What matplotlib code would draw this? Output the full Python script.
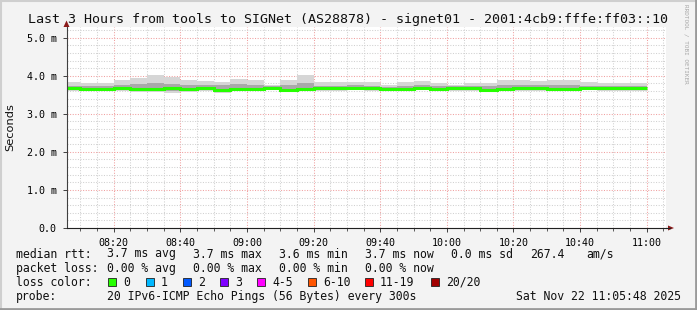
import numpy as np
import matplotlib.pyplot as plt
from matplotlib.patches import Rectangle, Polygon

# =============================================================================
# DATA  (median rtt per 5-minute step, in ms)
# =============================================================================
# step end times (minutes after midnight); the first step starts at 08:05:48
t_start = 8 * 60 + 5 + 48 / 60.0
t_end = 11 * 60 + 5 + 48 / 60.0
step_ends = list(range(8 * 60 + 10, 11 * 60 + 1, 5))

rtt_max = [3.83, 3.80, 3.80, 3.88, 3.93, 4.02, 3.96, 3.88, 3.86, 3.83,
           3.92, 3.88, 3.77, 3.88, 4.01, 3.83, 3.83, 3.83, 3.83, 3.75,
           3.83, 3.87, 3.81, 3.77, 3.80, 3.81, 3.90, 3.88, 3.86, 3.88,
           3.88, 3.83, 3.81, 3.81, 3.81]
rtt_q3 = [3.74, 3.72, 3.72, 3.76, 3.79, 3.80, 3.79, 3.76, 3.75, 3.76,
          3.78, 3.76, 3.72, 3.75, 3.80, 3.74, 3.74, 3.75, 3.74, 3.71,
          3.74, 3.76, 3.74, 3.72, 3.73, 3.73, 3.77, 3.76, 3.75, 3.76,
          3.76, 3.74, 3.74, 3.74, 3.74]
rtt_median = [3.68, 3.66, 3.66, 3.67, 3.64, 3.64, 3.67, 3.66, 3.67, 3.62,
              3.66, 3.66, 3.68, 3.63, 3.66, 3.67, 3.67, 3.69, 3.67, 3.66,
              3.66, 3.69, 3.66, 3.67, 3.67, 3.62, 3.66, 3.67, 3.67, 3.66,
              3.66, 3.69, 3.68, 3.67, 3.67]
rtt_q1 = [3.64, 3.62, 3.63, 3.63, 3.61, 3.61, 3.60, 3.62, 3.63, 3.59,
          3.63, 3.63, 3.65, 3.61, 3.62, 3.63, 3.64, 3.65, 3.64, 3.63,
          3.63, 3.65, 3.63, 3.64, 3.64, 3.60, 3.63, 3.64, 3.64, 3.63,
          3.63, 3.65, 3.64, 3.63, 3.63]
rtt_min = [3.60, 3.59, 3.60, 3.60, 3.58, 3.58, 3.56, 3.58, 3.60, 3.56,
           3.60, 3.60, 3.62, 3.58, 3.59, 3.60, 3.61, 3.62, 3.61, 3.61,
           3.60, 3.62, 3.60, 3.61, 3.61, 3.58, 3.60, 3.61, 3.61, 3.60,
           3.60, 3.62, 3.61, 3.60, 3.60]

y_ticks = [0, 1, 2, 3, 4, 5]
y_labels = ["0.0", "1.0 m", "2.0 m", "3.0 m", "4.0 m", "5.0 m"]
x_tick_labels = ["08:20", "08:40", "09:00", "09:20", "09:40",
                 "10:00", "10:20", "10:40", "11:00"]

title = "Last 3 Hours from tools to SIGNet (AS28878) - signet01 - 2001:4cb9:fffe:ff03::10"
rtt_row = [("median rtt:", 16), ("3.7 ms avg", 107), ("3.7 ms max", 193),
           ("3.6 ms min", 279), ("3.7 ms now", 365), ("0.0 ms sd", 451),
           ("267.4", 530), ("am/s", 586)]
loss_row = [("packet loss:", 16), ("0.00 % avg", 107), ("0.00 % max", 193),
            ("0.00 % min", 279), ("0.00 % now", 365)]
loss_labels = ["0", "1", "2", "3", "4-5", "6-10", "11-19", "20/20"]
loss_colors = ["#26ff00", "#00b8ff", "#0059ff", "#7e00ff",
               "#ff00ff", "#ff5500", "#ff0000", "#a10000"]
loss_x = [108, 146, 183, 220, 257, 308, 365, 431]
probe_text = "20 IPv6-ICMP Echo Pings (56 Bytes) every 300s"
stamp = "Sat Nov 22 11:05:48 2025"

# =============================================================================
# FIGURE
# =============================================================================
W, H = 697, 310
MONO = "DejaVu Sans Mono"
fig = plt.figure(figsize=(W / 100, H / 100), dpi=100, facecolor="#f3f3f3")

def fx(x):
    return x / W

def fy(y):
    return 1 - y / H

# plot area in pixels
L, R, T, B = 66.5, 666, 27, 228
ax = fig.add_axes([fx(L), fy(B), fx(R - L), (B - T) / H])
ax.set_facecolor("white")

edges = [t_start] + step_ends
ax.stairs(rtt_max, edges, baseline=rtt_min, fill=True, color="#d6d6d6", lw=0)
ax.stairs(rtt_q3, edges, baseline=rtt_q1, fill=True, color="#a9a9a9", lw=0)
ax.stairs(rtt_median, edges, baseline=None, color="#26ff00", lw=2.2)

ax.set_xlim(t_start, t_end)
ax.set_ylim(0, (B - T) / 38.06)

# grid
ax.set_xticks(range(8 * 60 + 20, 11 * 60 + 1, 20))
ax.set_xticks(range(8 * 60 + 10, 11 * 60 + 6, 5), minor=True)
ax.set_xticklabels(x_tick_labels)
ax.set_yticks(y_ticks)
ax.set_yticks(np.arange(0.2, 5.3, 0.2), minor=True)
ax.set_yticklabels(y_labels)
ax.grid(which="minor", color="#d0d0d0", linestyle=(0, (1, 1.5)), lw=0.75)
ax.grid(which="major", color="#f0a0a0", linestyle=(0, (1, 1.5)), lw=0.75)
ax.set_axisbelow(True)

for s in ["top", "right"]:
    ax.spines[s].set_visible(False)
ax.spines["left"].set_color("#404040")
ax.spines["bottom"].set_color("#202020")
ax.spines["left"].set_linewidth(0.8)
ax.spines["bottom"].set_linewidth(0.8)

ax.tick_params(axis="both", which="major", length=3, width=0.7, color="#404040",
               labelsize=7.2, pad=4)
ax.tick_params(axis="x", which="minor", length=2, width=0.6, color="#404040")
ax.tick_params(axis="y", which="minor", length=0)
for lab in ax.get_xticklabels() + ax.get_yticklabels():
    lab.set_family(MONO)

# axis extensions and arrows
fig.add_artist(plt.Line2D([fx(R), fx(670)], [fy(B), fy(B)],
                          color="#202020", lw=0.8))
fig.add_artist(Polygon([[fx(668), fy(B - 2.5)], [fx(668), fy(B + 2.5)],
                        [fx(674), fy(B)]], closed=True, color="#8b1a1a", lw=0))
fig.add_artist(Polygon([[fx(L - 3), fy(27)], [fx(L + 3), fy(27)],
                        [fx(L), fy(20.5)]], closed=True, color="#8b1a1a", lw=0))

# titles
fig.text(fx(348), fy(19), title, family=MONO, fontsize=9.6,
         ha="center", va="center", color="#101010")
fig.text(fx(10), fy(127), "Seconds", family="DejaVu Sans", fontsize=8.2,
         rotation=90, ha="center", va="center", color="#101010")
fig.text(fx(686), fy(4), "RRDTOOL / TOBI OETIKER", family=MONO, fontsize=4.3,
         rotation=270, ha="center", va="top", color="#a8a8a8")

# legend rows
LEG = dict(family=MONO, fontsize=8.3, va="center", color="#101010")
for txt, x in rtt_row:
    fig.text(fx(x), fy(254), txt, **LEG)
for txt, x in loss_row:
    fig.text(fx(x), fy(268.5), txt, **LEG)
fig.text(fx(16), fy(282), "loss color:", **LEG)
for lab, col, x in zip(loss_labels, loss_colors, loss_x):
    fig.add_artist(Rectangle((fx(x), fy(285.5)), fx(8), 8 / H,
                             facecolor=col, edgecolor="#202020", lw=0.6))
    fig.text(fx(x + 15), fy(282), lab, **LEG)
fig.text(fx(16), fy(296.5), "probe:", **LEG)
fig.text(fx(107), fy(296.5), probe_text, **LEG)
fig.text(fx(681), fy(296.5), stamp, ha="right", **LEG)

# 3d frame of the canvas
fig.add_artist(plt.Line2D([0, 1], [fy(0.5), fy(0.5)], color="#cfcfcf", lw=1.5))
fig.add_artist(plt.Line2D([fx(0.5), fx(0.5)], [0, 1], color="#cfcfcf", lw=1.5))
fig.add_artist(plt.Line2D([0, 1], [fy(309), fy(309)], color="#9a9a9a", lw=2))
fig.add_artist(plt.Line2D([fx(696), fx(696)], [0, 1], color="#9a9a9a", lw=2))

fig.savefig("out.png", dpi=100, facecolor=fig.get_facecolor())
